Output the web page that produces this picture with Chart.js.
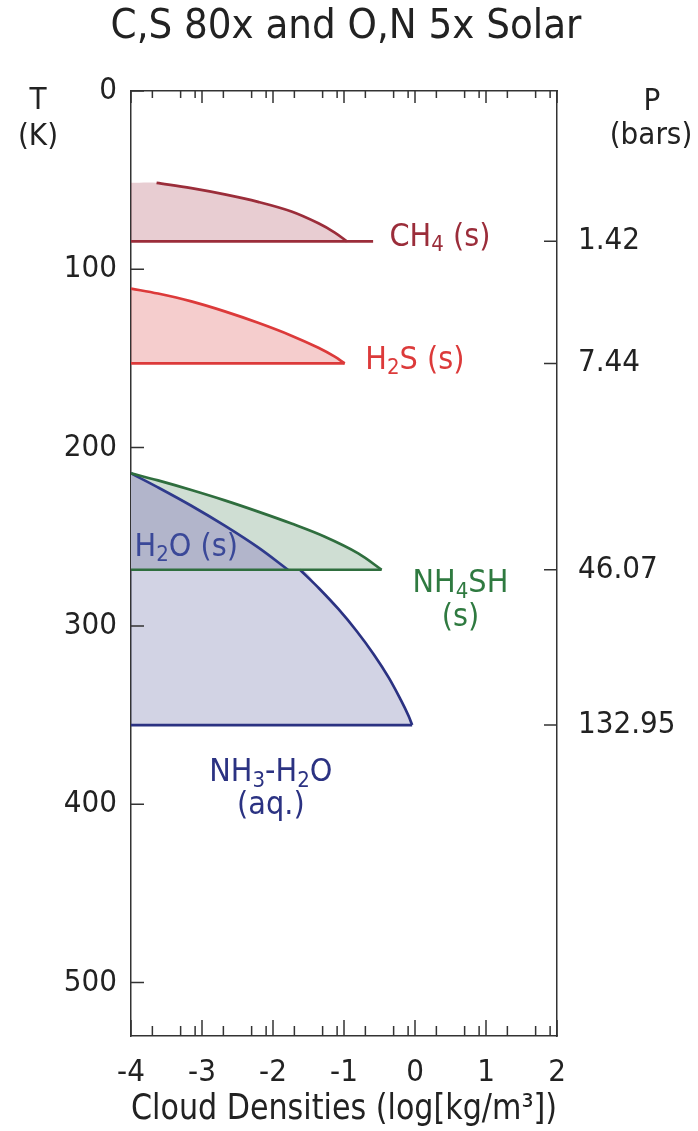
<!DOCTYPE html>
<html>
<head>
<meta charset="utf-8">
<script src="https://cdn.jsdelivr.net/npm/chart.js@4"></script>
<style>
  html, body { margin: 0; padding: 0; background: #fff; }
  #wrap { width: 698px; height: 1131px; position: relative; }
</style>
</head>
<body>
<div id="wrap"><canvas id="chart"></canvas></div>
<script>
// Axis ticks
const densityTicks = [-4, -3, -2, -1, 0, 1, 2];
const tempTicks = [0, 100, 200, 300, 400, 500];
const cloudBaseTemps = [84.3, 152.8, 268.5, 355.6];
const pressureLabels = ['1.42', '7.44', '46.07', '132.95'];

// CH4 ice cloud
const ch4Density = [-3.64, -3.15, -2.68, -2.21, -1.74, -1.36, -1.13, -0.96];
const ch4Temp = [51.5, 54.5, 58.0, 62.2, 67.6, 74.2, 79.4, 84.3];
const ch4BaseDensity = [-4, -0.59];

// H2S ice cloud
const h2sDensity = [-4, -3.62, -3.15, -2.68, -2.21, -1.74, -1.36, -1.13, -0.99];
const h2sTemp = [110.8, 113.6, 118.0, 123.6, 130.0, 137.2, 144.0, 149.0, 152.8];

// NH4SH cloud
const nh4shDensity = [-4, -3.62, -3.15, -2.68, -2.21, -1.74, -1.27, -0.80, -0.47];
const nh4shTemp = [214.4, 218.4, 223.8, 229.6, 235.9, 242.6, 250.0, 259.3, 268.5];

// H2O ice cloud
const h2oIceDensity = [-4, -3.62, -3.15, -2.68, -2.21, -1.79];
const h2oIceTemp = [214.4, 222.3, 232.6, 243.8, 256.0, 268.5];

// NH3-H2O aqueous cloud
const nh3Density = [-1.62, -1.35, -1.08, -0.82, -0.58, -0.37, -0.20, -0.09, -0.04];
const nh3Temp = [268.5, 279.0, 290.5, 303.0, 316.0, 329.0, 341.5, 350.5, 355.6];

const FONT = "'DejaVu Sans Condensed', 'DejaVu Sans', sans-serif";
const INK = '#222';
const AXIS = '#333';

const colors = {
  ch4: '#9b2d3a', ch4Fill: 'rgba(155, 40, 60, 0.23)',
  h2s: '#dc3a3a', h2sFill: 'rgba(215, 45, 45, 0.24)',
  nh4sh: '#2f6e3e', nh4shFill: 'rgba(47, 112, 64, 0.23)',
  h2o: '#2f3a8c', h2oFill: 'rgb(178, 181, 203)',
  nh3: '#2b3282', nh3Fill: 'rgba(43, 47, 128, 0.21)'
};

const pts = (xs, ys) => xs.map((x, i) => ({ x: x, y: ys[i] }));
const flat = (xs, y) => xs.map(x => ({ x: x, y: y }));

function lineSet(data, color, order) {
  return {
    data: data, borderColor: color, borderWidth: 2.7, pointRadius: 0,
    showLine: true, fill: false, tension: 0.35, order: order
  };
}
function fillSet(data, color, base, order) {
  return {
    data: data, borderWidth: 0, borderColor: 'transparent', backgroundColor: color,
    pointRadius: 0, showLine: true, fill: { value: base }, tension: 0.35, order: order
  };
}

const datasets = [
  // fills
  fillSet([{ x: -4, y: ch4Temp[0] }].concat(pts(ch4Density, ch4Temp)), colors.ch4Fill, cloudBaseTemps[0], 3),
  fillSet(pts(h2sDensity, h2sTemp), colors.h2sFill, cloudBaseTemps[1], 3),
  fillSet([{ x: -4, y: nh3Temp[0] }].concat(pts(nh3Density, nh3Temp)), colors.nh3Fill, cloudBaseTemps[3], 6),
  fillSet(pts(nh4shDensity, nh4shTemp), colors.nh4shFill, cloudBaseTemps[2], 5),
  fillSet(pts(h2oIceDensity, h2oIceTemp), colors.h2oFill, cloudBaseTemps[2], 4),
  // outlines
  lineSet(pts(ch4Density, ch4Temp), colors.ch4, 1),
  lineSet(flat(ch4BaseDensity, cloudBaseTemps[0]), colors.ch4, 1),
  lineSet(pts(h2sDensity, h2sTemp), colors.h2s, 1),
  lineSet(flat([-4, h2sDensity[h2sDensity.length - 1]], cloudBaseTemps[1]), colors.h2s, 1),
  lineSet(pts(nh3Density, nh3Temp), colors.nh3, 1),
  lineSet(flat([-4, nh3Density[nh3Density.length - 1]], cloudBaseTemps[3]), colors.nh3, 1),
  lineSet(pts(h2oIceDensity, h2oIceTemp), colors.h2o, 1),
  lineSet(pts(nh4shDensity, nh4shTemp), colors.nh4sh, 0),
  lineSet(flat([-4, nh4shDensity[nh4shDensity.length - 1]], cloudBaseTemps[2]), colors.nh4sh, 0)
];

// draw text with subscript parts: [text, isSub]
function drawRich(ctx, parts, x, y, align, color) {
  const big = '32px ' + FONT, small = '22px ' + FONT;
  let w = 0;
  parts.forEach(p => { ctx.font = p[1] ? small : big; w += ctx.measureText(p[0]).width; });
  let cx = align === 'center' ? x - w / 2 : x;
  ctx.fillStyle = color;
  ctx.textAlign = 'left';
  ctx.textBaseline = 'middle';
  parts.forEach(p => {
    ctx.font = p[1] ? small : big;
    ctx.fillText(p[0], cx, p[1] ? y + 8 : y);
    cx += ctx.measureText(p[0]).width;
  });
}

const decorPlugin = {
  id: 'decor',
  afterDraw(chart) {
    const { ctx, chartArea: a, scales } = chart;
    const sx = scales.x, sy = scales.y;
    ctx.save();
    // inward tick marks
    ctx.strokeStyle = AXIS;
    ctx.lineWidth = 1.5;
    ctx.beginPath();
    densityTicks.forEach(v => {
      const px = sx.getPixelForValue(v);
      ctx.moveTo(px, a.bottom); ctx.lineTo(px, a.bottom - 16);
      ctx.moveTo(px, a.top); ctx.lineTo(px, a.top + 12);
      if (v < 2) {
        [Math.log10(2), Math.log10(5), Math.log10(8)].forEach(m => {
          const mx = sx.getPixelForValue(v + m);
          ctx.moveTo(mx, a.bottom); ctx.lineTo(mx, a.bottom - 10);
          ctx.moveTo(mx, a.top); ctx.lineTo(mx, a.top + 7);
        });
      }
    });
    tempTicks.forEach(v => {
      const py = sy.getPixelForValue(v);
      ctx.moveTo(a.left, py); ctx.lineTo(a.left + 13, py);
    });
    cloudBaseTemps.forEach(v => {
      const py = sy.getPixelForValue(v);
      ctx.moveTo(a.right, py); ctx.lineTo(a.right - 13, py);
    });
    ctx.stroke();

    // title and axis captions
    ctx.fillStyle = INK;
    ctx.textAlign = 'center';
    ctx.textBaseline = 'middle';
    ctx.font = '41.5px ' + FONT;
    ctx.fillText('C,S 80x and O,N 5x Solar', 346, 27);
    ctx.font = '31px ' + FONT;
    ctx.fillText('T', 38, 101);
    ctx.fillText('(K)', 38, 137);
    ctx.fillText('P', 652, 102);
    ctx.fillText('(bars)', 651, 136);

    // cloud labels
    const X = v => sx.getPixelForValue(v), Y = v => sy.getPixelForValue(v);
    drawRich(ctx, [['CH', 0], ['4', 1], [' (s)', 0]], X(-0.36), Y(82), 'left', colors.ch4);
    drawRich(ctx, [['H', 0], ['2', 1], ['S (s)', 0]], X(-0.70), Y(151), 'left', colors.h2s);
    drawRich(ctx, [['H', 0], ['2', 1], ['O (s)', 0]], X(-3.95), Y(256), 'left', '#3a4898');
    drawRich(ctx, [['NH', 0], ['4', 1], ['SH', 0]], X(0.64), Y(276.4), 'center', '#2f7a40');
    drawRich(ctx, [['(s)', 0]], X(0.64), Y(295.5), 'center', '#2f7a40');
    drawRich(ctx, [['NH', 0], ['3', 1], ['-H', 0], ['2', 1], ['O', 0]], X(-2.03), Y(382.6), 'center', colors.nh3);
    drawRich(ctx, [['(aq.)', 0]], X(-2.03), Y(401), 'center', colors.nh3);
    ctx.restore();
  }
};

const tickFont = { family: FONT, size: 31 };
const border = { display: true, color: AXIS, width: 1.5 };
const noGrid = { display: false, drawTicks: false };

new Chart(document.getElementById('chart'), {
  type: 'scatter',
  data: { datasets: datasets },
  options: {
    responsive: true,
    maintainAspectRatio: false,
    animation: false,
    layout: { padding: { top: 91, left: 0, right: 0, bottom: 0 } },
    plugins: {
      legend: { display: false },
      tooltip: { enabled: false }
    },
    scales: {
      x: {
        type: 'linear', position: 'bottom', min: -4, max: 2,
        grid: noGrid, border: border,
        afterBuildTicks: s => { s.ticks = densityTicks.map(v => ({ value: v })); },
        afterFit: s => { s.height = 95; },
        ticks: { color: INK, font: tickFont, padding: 18 },
        title: {
          display: true, text: 'Cloud Densities (log[kg/m³])', color: INK,
          font: { family: FONT, size: 35 }, padding: { top: 0, bottom: 0 }
        }
      },
      xTop: {
        type: 'linear', position: 'top', min: -4, max: 2,
        grid: noGrid, border: border,
        ticks: { display: false },
        afterFit: s => { s.height = 0; }
      },
      y: {
        type: 'linear', position: 'left', reverse: true, min: 0, max: 530,
        grid: noGrid, border: border,
        afterBuildTicks: s => { s.ticks = tempTicks.map(v => ({ value: v })); },
        afterFit: s => { s.width = 131; },
        ticks: { color: INK, font: tickFont, padding: 14 }
      },
      yRight: {
        type: 'linear', position: 'right', reverse: true, min: 0, max: 530,
        grid: noGrid, border: border,
        afterBuildTicks: s => { s.ticks = cloudBaseTemps.map(v => ({ value: v })); },
        afterFit: s => { s.width = 141; },
        ticks: {
          color: INK, font: tickFont, padding: 21,
          callback: (value, i) => pressureLabels[i]
        }
      }
    }
  },
  plugins: [decorPlugin]
});
</script>
</body>
</html>
